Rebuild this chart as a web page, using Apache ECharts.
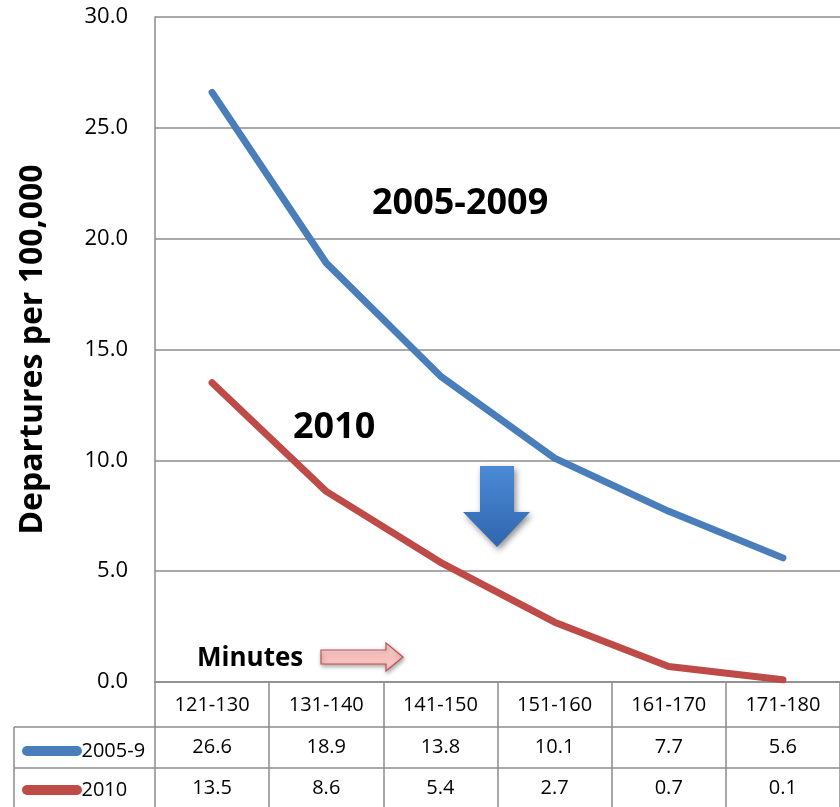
<!DOCTYPE html>
<html><head><meta charset="utf-8">
<script src="https://cdn.jsdelivr.net/npm/echarts@6/dist/echarts.min.js"></script>
<style>html,body{margin:0;padding:0;background:#fff}#c{width:840px;height:807px}</style>
</head><body><div id="c"></div>
<script>
const categories = ['121-130','131-140','141-150','151-160','161-170','171-180'];
const seriesNames = ['2005-9','2010'];
const values2005 = [26.6, 18.9, 13.8, 10.1, 7.7, 5.6];
const values2010 = [13.5, 8.6, 5.4, 2.7, 0.7, 0.1];
const yTicks = [0, 5, 10, 15, 20, 25, 30];

const FONT = 'Open Sans';
const GRID = '#8c8c8c';
const BLUE = '#4A7EBB';
const RED = '#BE4B48';

const chart = echarts.init(document.getElementById('c'));
const rowLabel = (arr) => (v, i) => arr[i].toFixed(1);

const option = {
  animation: false,
  backgroundColor: '#fff',
  textStyle: { fontFamily: FONT },
  grid: { left: 155, top: 17, width: 697, height: 665, containLabel: false },
  xAxis: [
    {
      type: 'category', data: categories, boundaryGap: true, position: 'bottom',
      axisLine: { show: true, lineStyle: { color: GRID, width: 1.5 } },
      axisTick: { show: true, length: 125, lineStyle: { color: GRID, width: 1.5 } },
      axisLabel: { fontSize: 20, color: '#000', margin: 12, lineHeight: 22, fontFamily: FONT, interval: 0 },
      splitLine: { show: false }
    },
    {
      type: 'category', data: categories, boundaryGap: true, position: 'bottom', offset: 44,
      axisLine: { show: false }, axisTick: { show: false },
      axisLabel: { fontSize: 20, color: '#000', margin: 10, lineHeight: 22, fontFamily: FONT, interval: 0, formatter: rowLabel(values2005) }
    },
    {
      type: 'category', data: categories, boundaryGap: true, position: 'bottom', offset: 85,
      axisLine: { show: false }, axisTick: { show: false },
      axisLabel: { fontSize: 20, color: '#000', margin: 10, lineHeight: 22, fontFamily: FONT, interval: 0, formatter: rowLabel(values2010) }
    }
  ],
  yAxis: {
    type: 'value', min: yTicks[0], max: yTicks[yTicks.length - 1], interval: yTicks[1] - yTicks[0],
    name: 'Departures per 100,000', nameLocation: 'middle', nameGap: 106,
    nameTextStyle: { fontSize: 32, fontWeight: 'bold', color: '#000', fontFamily: FONT },
    axisLine: { show: true, lineStyle: { color: GRID, width: 1.5 } },
    axisTick: { show: false },
    axisLabel: { fontSize: 22, color: '#000', margin: 27, fontFamily: FONT, formatter: v => v.toFixed(1) },
    splitLine: { show: true, lineStyle: { color: GRID, width: 1.5 } }
  },
  legend: {
    data: seriesNames, orient: 'vertical', left: 17, top: 736, itemGap: 19,
    itemWidth: 61, itemHeight: 10,
    icon: 'path://M5,0 L55,0 A5,5 0 0 1 55,10 L5,10 A5,5 0 0 1 5,0 Z',
    textStyle: { fontSize: 20, color: '#000', fontFamily: FONT, padding: [0, 0, 0, -6] },
    selectedMode: false
  },
  series: [
    { name: seriesNames[0], type: 'line', data: values2005, showSymbol: false, symbol: 'none',
      lineStyle: { color: BLUE, width: 7, cap: 'round', join: 'round' }, itemStyle: { color: BLUE } },
    { name: seriesNames[1], type: 'line', data: values2010, showSymbol: false, symbol: 'none',
      lineStyle: { color: RED, width: 7, cap: 'round', join: 'round' }, itemStyle: { color: RED } }
  ],
  graphic: [
    { type: 'line', shape: { x1: 14, y1: 727, x2: 840, y2: 727 }, style: { stroke: GRID, lineWidth: 1.5 }, z: 5 },
    { type: 'line', shape: { x1: 14, y1: 768, x2: 840, y2: 768 }, style: { stroke: GRID, lineWidth: 1.5 }, z: 5 },
    { type: 'line', shape: { x1: 14, y1: 727, x2: 14, y2: 807 }, style: { stroke: GRID, lineWidth: 1.5 }, z: 5 },
    { type: 'text', left: 372, top: 186, style: { text: '2005-2009', font: 'bold 36px "Open Sans"', fill: '#000' }, z: 10 },
    { type: 'text', left: 293, top: 410, style: { text: '2010', font: 'bold 36px "Open Sans"', fill: '#000' }, z: 10 },
    { type: 'text', left: 197, top: 646, style: { text: 'Minutes', font: 'bold 26px "Open Sans"', fill: '#000' }, z: 10 },
    { type: 'polygon', z: 10,
      shape: { points: [[480,466],[514,466],[514,512],[530,512],[497,547],[463,512],[480,512]] },
      style: {
        fill: new echarts.graphic.LinearGradient(0, 0, 0, 1, [{ offset: 0, color: '#4C8AD6' }, { offset: 1, color: '#2F66AD' }]),
        shadowBlur: 6, shadowColor: 'rgba(0,0,0,0.45)', shadowOffsetX: 2, shadowOffsetY: 3
      } },
    { type: 'polygon', z: 10,
      shape: { points: [[321,650],[386,650],[386,643],[403,657],[386,671],[386,664],[321,664]] },
      style: {
        fill: new echarts.graphic.LinearGradient(0, 0, 0, 1, [{ offset: 0, color: '#FDE8E7' }, { offset: 0.5, color: '#F8BDBB' }, { offset: 1, color: '#F9D2D0' }]),
        stroke: '#C0504D', lineWidth: 1.2,
        shadowBlur: 4, shadowColor: 'rgba(0,0,0,0.35)', shadowOffsetX: 1, shadowOffsetY: 2
      } }
  ]
};
chart.setOption(option);
</script></body></html>
